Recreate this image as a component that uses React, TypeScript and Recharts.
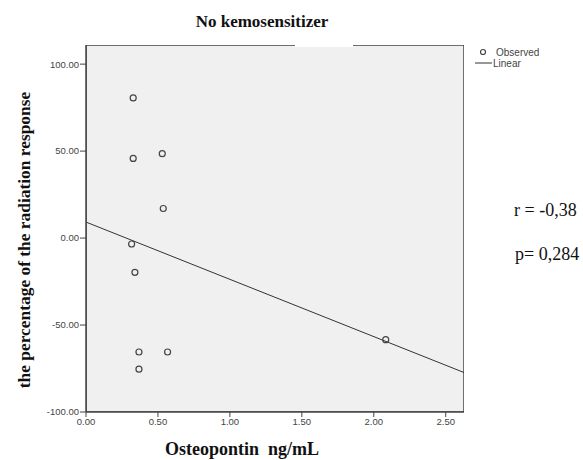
import React from 'react';
import { ComposedChart, Scatter, Line, XAxis, YAxis, ReferenceArea } from 'recharts';

const osteopontin = [0.328, 0.328, 0.53, 0.537, 0.317, 0.34, 0.368, 0.567, 0.368, 2.083];
const response = [80.6, 45.8, 48.5, 17.0, -3.4, -19.7, -65.5, -65.5, -75.4, -58.4];
const fitX = [0, 2.627];
const fitY = [9.2, -77.3];
const xTicks = [0, 0.5, 1, 1.5, 2, 2.5];
const yTicks = [-100, -50, 0, 50, 100];

const observed = osteopontin.map((x, i) => ({ x, y: response[i] }));
const linear = fitX.map((x, i) => ({ x, y: fitY[i] }));

const serif = '"Liberation Serif", "Times New Roman", serif';
const sans = '"Liberation Sans", Arial, sans-serif';

const Circle = (props: any) => {
  const { cx, cy } = props;
  return <circle cx={cx} cy={cy} r={3} fill="none" stroke="#444" strokeWidth={1.2} />;
};

export default function App() {
  return (
    <div style={{ position: 'absolute', left: 0, top: 0, width: 583, height: 460, background: '#fff', fontFamily: serif, color: '#111' }}>
      <ComposedChart width={583} height={460} margin={{ top: 45, right: 119, bottom: 18, left: 0 }}>
        <XAxis
          type="number"
          dataKey="x"
          domain={[0, 2.627]}
          ticks={xTicks}
          tickFormatter={(v: number) => v.toFixed(2)}
          height={30}
          tickSize={5}
          tickMargin={1}
          axisLine={{ stroke: '#444', strokeWidth: 1.5 }}
          tickLine={{ stroke: '#444' }}
          tick={{ fill: '#444', fontSize: 9.5, fontFamily: sans }}
          allowDataOverflow
        />
        <YAxis
          type="number"
          dataKey="y"
          domain={[-100, 111]}
          ticks={yTicks}
          tickFormatter={(v: number) => v.toFixed(2)}
          width={86}
          tickSize={6}
          tickMargin={1}
          axisLine={{ stroke: '#444', strokeWidth: 1.5 }}
          tickLine={{ stroke: '#444' }}
          tick={{ fill: '#444', fontSize: 9.5, fontFamily: sans }}
          allowDataOverflow
        />
        <ReferenceArea x1={0} x2={2.627} y1={-100} y2={111} fill="#f0f0f0" fillOpacity={1} stroke="#444" strokeWidth={1.5} ifOverflow="hidden" />
        <Line data={linear} dataKey="y" type="linear" stroke="#333" strokeWidth={1} dot={false} isAnimationActive={false} legendType="none" />
        <Scatter data={observed} dataKey="y" shape={<Circle />} isAnimationActive={false} />
      </ComposedChart>
      <div style={{ position: 'absolute', left: 295, top: 42, width: 58, height: 5, background: '#fff' }} />
      <div style={{ position: 'absolute', left: 62, width: 400, top: 12, textAlign: 'center', fontWeight: 'bold', fontSize: 17, lineHeight: '20px' }}>No kemosensitizer</div>
      <div style={{ position: 'absolute', left: 42, width: 400, top: 439, textAlign: 'center', fontWeight: 'bold', fontSize: 18, lineHeight: '20px', whiteSpace: 'pre' }}>Osteopontin  ng/mL</div>
      <div style={{ position: 'absolute', left: 24 - 200, top: 240 - 10, width: 400, height: 20, textAlign: 'center', fontWeight: 'bold', fontSize: 17.4, lineHeight: '20px', transform: 'rotate(-90deg)' }}>the percentage of the radiation response</div>
      <svg style={{ position: 'absolute', left: 470, top: 44 }} width={90} height={26}>
        <circle cx={13} cy={8} r={2.5} fill="none" stroke="#444" strokeWidth={1.2} />
        <text x={26} y={11.5} fontSize={10} fontFamily={sans} fill="#444">Observed</text>
        <line x1={5} y1={19} x2={22} y2={19} stroke="#333" strokeWidth={1} />
        <text x={23} y={22.5} fontSize={10} fontFamily={sans} fill="#444">Linear</text>
      </svg>
      <div style={{ position: 'absolute', left: 514, top: 200, fontSize: 18, lineHeight: '20px', whiteSpace: 'pre' }}>r = -0,38</div>
      <div style={{ position: 'absolute', left: 515, top: 244, fontSize: 18, lineHeight: '20px', whiteSpace: 'pre' }}>p= 0,284</div>
    </div>
  );
}
